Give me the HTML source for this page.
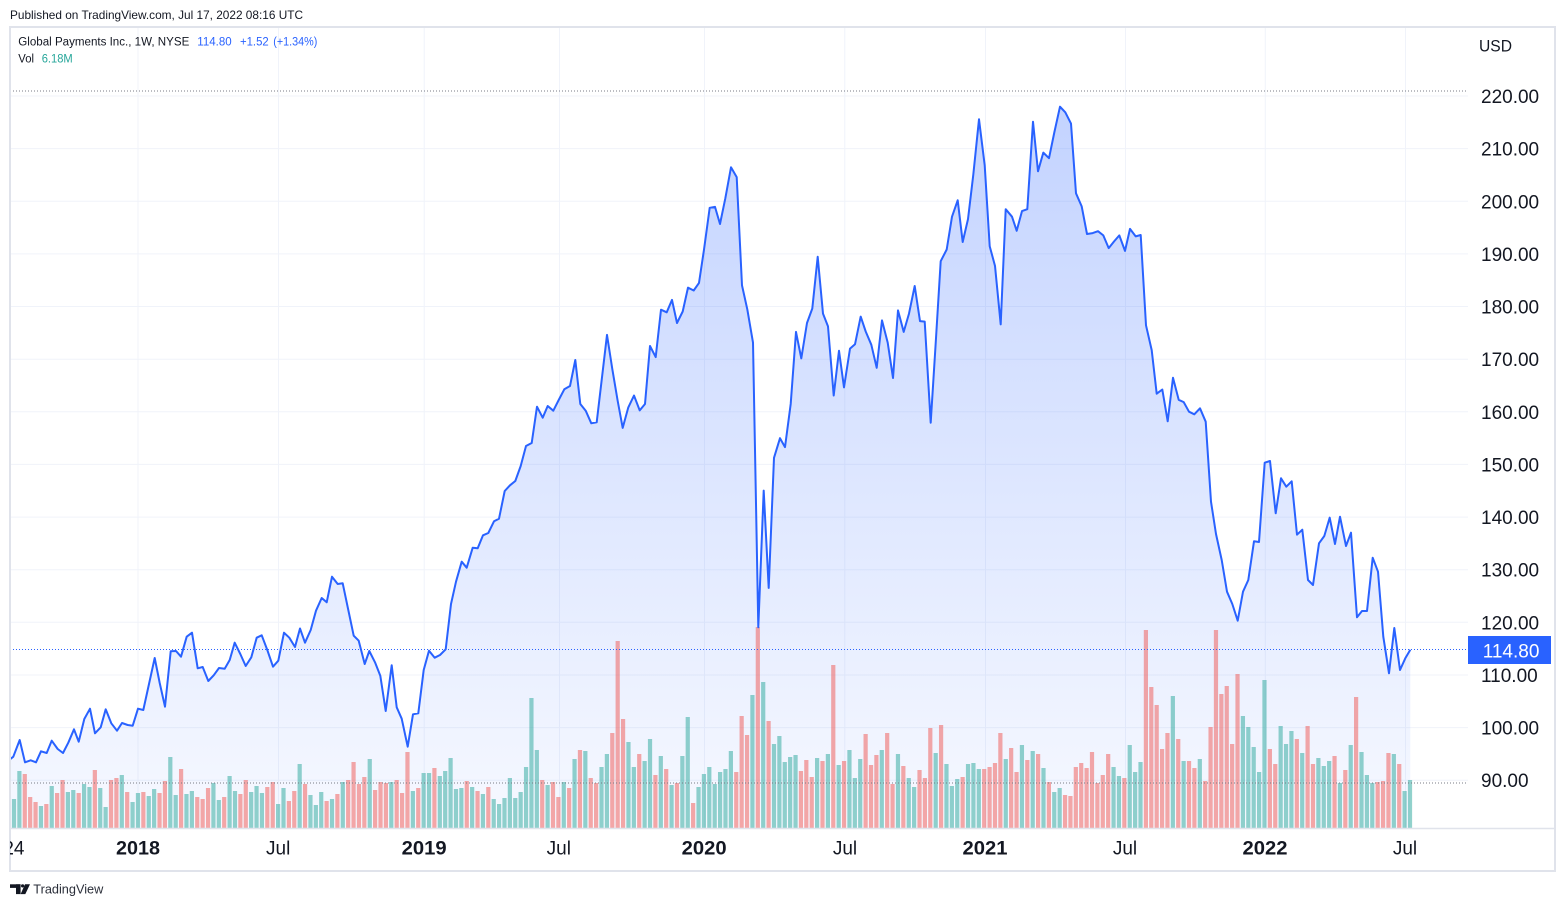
<!DOCTYPE html>
<html><head><meta charset="utf-8"><style>html,body{margin:0;padding:0;background:#fff}svg{display:block}</style></head>
<body>
<svg width="1566" height="907" viewBox="0 0 1566 907" xmlns="http://www.w3.org/2000/svg" font-family="'Liberation Sans', Arial, sans-serif">
<defs>
<clipPath id="pc"><rect x="10" y="28" width="1458" height="800"/></clipPath>
<clipPath id="tc"><rect x="10" y="829" width="1458" height="41"/></clipPath>
<linearGradient id="ag" gradientUnits="userSpaceOnUse" x1="0" y1="106" x2="0" y2="828">
<stop offset="0" stop-color="#2962ff" stop-opacity="0.28"/>
<stop offset="1" stop-color="#2962ff" stop-opacity="0.04"/>
</linearGradient>
</defs>
<rect width="1566" height="907" fill="#fff"/>

<text x="10" y="19" font-size="12" fill="#131722" textLength="293" lengthAdjust="spacingAndGlyphs">Published on TradingView.com, Jul 17, 2022 08:16 UTC</text>

<!-- grid -->
<g stroke="#f0f3fa" stroke-width="1">
<line x1="10" x2="1468" y1="96" y2="96"/>
<line x1="10" x2="1468" y1="148.6" y2="148.6"/>
<line x1="10" x2="1468" y1="201.3" y2="201.3"/>
<line x1="10" x2="1468" y1="253.9" y2="253.9"/>
<line x1="10" x2="1468" y1="306.5" y2="306.5"/>
<line x1="10" x2="1468" y1="359.2" y2="359.2"/>
<line x1="10" x2="1468" y1="411.8" y2="411.8"/>
<line x1="10" x2="1468" y1="464.4" y2="464.4"/>
<line x1="10" x2="1468" y1="517.1" y2="517.1"/>
<line x1="10" x2="1468" y1="569.7" y2="569.7"/>
<line x1="10" x2="1468" y1="622.3" y2="622.3"/>
<line x1="10" x2="1468" y1="675" y2="675"/>
<line x1="10" x2="1468" y1="727.6" y2="727.6"/>
<line x1="10" x2="1468" y1="780.2" y2="780.2"/>
<line x1="138" x2="138" y1="28" y2="828"/>
<line x1="278.5" x2="278.5" y1="28" y2="828"/>
<line x1="424.2" x2="424.2" y1="28" y2="828"/>
<line x1="559.5" x2="559.5" y1="28" y2="828"/>
<line x1="704.5" x2="704.5" y1="28" y2="828"/>
<line x1="844.8" x2="844.8" y1="28" y2="828"/>
<line x1="985.5" x2="985.5" y1="28" y2="828"/>
<line x1="1125.5" x2="1125.5" y1="28" y2="828"/>
<line x1="1265.3" x2="1265.3" y1="28" y2="828"/>
<line x1="1405.5" x2="1405.5" y1="28" y2="828"/>
</g>

<g clip-path="url(#pc)">
<!-- area -->
<polygon fill="url(#ag)" points="4,760 10,759.3 13.3,756.7 19.7,740 25,762.3 30.7,760.3 36,762.3 41,751.3 46.7,753 51.7,740.7 57.7,749 63,753 68.3,742.7 74,729.3 78.7,741.7 84.3,719 90,708.7 95,733.3 100.7,727.3 105.7,709.3 111.3,723.3 117,730.7 122,723 127.7,725 132.7,725.7 138,708.7 143.3,710 149,684 154.7,658 159.7,683 165,706.7 170.7,651.3 176,651 181,656.7 186.7,636.7 192,632.7 197.7,668.3 202.7,667 208.3,681 213.7,675.3 219,668 224.7,668.7 229.7,660 234.7,642.7 240.3,654 245.7,666 251.3,657.3 256.7,637.7 261.7,635.3 267.3,650 273,666.7 278.3,660.7 284,632.7 289.3,637.7 295,647 300,628.5 305,642.7 310.7,630 316,610.7 321.7,598 326.7,602.3 332,576.7 337.7,584 342.7,583.3 348.3,610 353.7,635.7 358.7,640.7 364.7,664 369.3,651 375,662.3 380.3,675.7 385.7,711 391.7,665.3 396.7,707.3 401.7,718.7 407.7,746.7 413,714.3 418.3,713.3 423.7,670 429,650.7 434.7,657.7 440,655 445.7,649.3 451,604 456,581.7 461.7,561.7 466.7,567.7 472.7,547.7 477.7,548.3 483,535.3 488.3,533 494,521.3 499,518.7 504.7,491 510,485.3 515.3,481 520.7,466 526,446 531.7,443 537,406.7 542.7,417.7 547.7,406 553.3,410.7 558.7,400 564.3,389.3 570,386 575.3,360 580.3,404 585.7,410.7 591.3,423.3 596.7,422.3 607,334.9 612.3,369 617.7,401 622.7,427.9 628.3,407.4 634,395.5 639.7,410.4 645,404 650,346 655.7,357.1 661,309.7 666.7,312.3 672,299.9 677,323 682.7,311.5 688,287.6 693.7,290.5 699,282.9 704,249.6 709.7,207.8 715,206.9 720,224 725.3,198.4 731,167.3 736.7,177.1 742,285.4 747.3,309.3 753,342.6 758.3,627.2 763.7,490.6 768.7,587.9 774,457.8 780,438.2 785,447.1 790.7,404 796,331.9 801.3,358.4 807,323 812.3,308.5 817.7,256.8 823,313.6 828,326.4 833.7,395.5 839,350.7 844,387.4 850,348.6 855,344.3 860.7,316.6 865.7,331.5 871.3,344.7 876.7,367.8 882,320.4 887.7,342.6 893,378 898,310.4 903.7,331.9 909,313.6 914.7,286 920,321.1 924.7,321.6 930.7,422.7 935.7,343.1 940.7,261.2 946.7,249.5 952,216.7 957.7,200.3 962.7,242 968,219.1 973.3,174.6 979,119.3 984.7,165.2 989.7,246.2 995,265.9 1000.7,324.4 1005.7,209.2 1012,216.7 1016.7,230.8 1022,211.1 1027.3,209.2 1033,121.7 1038,171.3 1043.3,152.6 1049,158.2 1054.3,132.5 1060,106.7 1065.3,112.3 1071,123.6 1076,193.3 1081.7,206.4 1087,234 1092.7,233.1 1098,231.2 1103.3,235.4 1108.7,248.1 1114,241.5 1119.3,235.4 1125,250.9 1130,228.9 1135.7,236.4 1140.7,235 1146,325.3 1151.7,350.1 1156.7,393.7 1162.3,389.5 1167.7,421.3 1173,377.8 1178.7,399.8 1183.7,402.1 1189,411.7 1194.3,414.3 1200,408.3 1205.7,421.7 1211,501.7 1216,534 1221.7,560 1227,591.7 1232.3,604 1237.7,620.7 1243,591.7 1248.3,580 1254,541.3 1259,542 1264.7,462.7 1270,461 1275.7,513.3 1281,478.3 1286.3,486.7 1291.7,481.3 1297,534.7 1302.3,529.7 1308,580 1313,585 1319,543.3 1324.3,536 1329.7,517.7 1335,544 1340,516.7 1346,546 1351,532.7 1357,617.3 1362,611 1367,611 1372.7,557.7 1378,571.7 1383.3,636.7 1389,673.3 1394.3,628 1400,670 1405.3,658.3 1410.3,649.7 1410.3,828 4,828"/>

<!-- volume green -->
<path fill="#26a69a" fill-opacity="0.5" d="M6.51 828
v-41h4.2v41m1.19 0 v-29h4.2v29m1.19 0 v-57h4.2v57m1.19 0 m5.39 0m5.39 0m5.39 0
v-22h4.2v22m1.19 0 m5.39 0 v-42h4.2v42m1.19 0 m5.39 0m5.39 0
v-36h4.2v36m1.19 0 v-38h4.2v38m1.19 0 m5.39 0 v-44h4.2v44m1.19 0 v-41h4.2v41m1.19 0 m5.39 0
v-40h4.2v40m1.19 0 v-21h4.2v21m1.19 0 m5.39 0m5.39 0 v-53h4.2v53m1.19 0 m5.39 0
v-26h4.2v26m1.19 0 v-35h4.2v35m1.19 0 m5.39 0 v-32h4.2v32m1.19 0 v-39h4.2v39m1.19 0 m5.39 0m5.39 0
v-71h4.2v71m1.19 0 v-33h4.2v33m1.19 0 m5.39 0 v-34h4.2v34m1.19 0 v-37h4.2v37m1.19 0 m5.39 0m5.39 0m5.39 0
v-45h4.2v45m1.19 0 v-28h4.2v28m1.19 0 m5.39 0 v-52h4.2v52m1.19 0 v-37h4.2v37m1.19 0 m5.39 0m5.39 0
v-36h4.2v36m1.19 0 v-42h4.2v42m1.19 0 v-35h4.2v35m1.19 0 m5.39 0m5.39 0
v-24h4.2v24m1.19 0 v-40h4.2v40m1.19 0 m5.39 0m5.39 0 v-64h4.2v64m1.19 0 m5.39 0
v-33h4.2v33m1.19 0 v-23h4.2v23m1.19 0 v-36h4.2v36m1.19 0 m5.39 0 v-29h4.2v29m1.19 0 m5.39 0
v-46h4.2v46m1.19 0 m5.39 0m5.39 0m5.39 0m5.39 0 v-69h4.2v69m1.19 0 m5.39 0m5.39 0m5.39 0
v-46h4.2v46m1.19 0 m5.39 0m5.39 0m5.39 0 v-37h4.2v37m1.19 0 m5.39 0
v-55h4.2v55m1.19 0 v-55h4.2v55m1.19 0 m5.39 0 v-52h4.2v52m1.19 0 v-57h4.2v57m1.19 0 v-70h4.2v70m1.19 0
v-39h4.2v39m1.19 0 v-40h4.2v40m1.19 0 m5.39 0 v-41h4.2v41m1.19 0 m5.39 0 v-34h4.2v34m1.19 0 m5.39 0
v-29h4.2v29m1.19 0 v-24h4.2v24m1.19 0 v-30h4.2v30m1.19 0 v-50h4.2v50m1.19 0 v-30h4.2v30m1.19 0
v-36h4.2v36m1.19 0 v-61h4.2v61m1.19 0 v-130h4.2v130m1.19 0 v-78h4.2v78m1.19 0 m5.39 0
v-43h4.2v43m1.19 0 m5.39 0m5.39 0 v-46h4.2v46m1.19 0 m5.39 0 v-69h4.2v69m1.19 0 m5.39 0
v-77h4.2v77m1.19 0 m5.39 0m5.39 0 v-61h4.2v61m1.19 0 v-74h4.2v74m1.19 0 m5.39 0m5.39 0m5.39 0
v-86h4.2v86m1.19 0 v-61h4.2v61m1.19 0 m5.39 0 v-67h4.2v67m1.19 0 v-89h4.2v89m1.19 0 m5.39 0
v-72h4.2v72m1.19 0 m5.39 0 v-43h4.2v43m1.19 0 m5.39 0 v-72h4.2v72m1.19 0 v-111h4.2v111m1.19 0 m5.39 0
v-41h4.2v41m1.19 0 v-54h4.2v54m1.19 0 v-61h4.2v61m1.19 0 v-44h4.2v44m1.19 0 v-56h4.2v56m1.19 0
v-59h4.2v59m1.19 0 v-77h4.2v77m1.19 0 m5.39 0m5.39 0m5.39 0 v-133h4.2v133m1.19 0 m5.39 0
v-146h4.2v146m1.19 0 m5.39 0 v-84h4.2v84m1.19 0 v-92h4.2v92m1.19 0 v-66h4.2v66m1.19 0
v-71h4.2v71m1.19 0 v-73h4.2v73m1.19 0 m5.39 0m5.39 0m5.39 0 v-70h4.2v70m1.19 0 m5.39 0
v-74h4.2v74m1.19 0 m5.39 0 v-63h4.2v63m1.19 0 m5.39 0 v-78h4.2v78m1.19 0 v-50h4.2v50m1.19 0
v-69h4.2v69m1.19 0 m5.39 0m5.39 0m5.39 0 v-78h4.2v78m1.19 0 m5.39 0m5.39 0 v-74h4.2v74m1.19 0 m5.39 0
v-50h4.2v50m1.19 0 v-41h4.2v41m1.19 0 m5.39 0m5.39 0m5.39 0 v-75h4.2v75m1.19 0 m5.39 0
v-64h4.2v64m1.19 0 v-42h4.2v42m1.19 0 v-49h4.2v49m1.19 0 m5.39 0 v-64h4.2v64m1.19 0
v-65h4.2v65m1.19 0 v-59h4.2v59m1.19 0 m5.39 0m5.39 0m5.39 0m5.39 0 v-69h4.2v69m1.19 0 m5.39 0m5.39 0
v-83h4.2v83m1.19 0 m5.39 0 v-77h4.2v77m1.19 0 m5.39 0 v-60h4.2v60m1.19 0 m5.39 0
v-36h4.2v36m1.19 0 v-40h4.2v40m1.19 0 m5.39 0m5.39 0m5.39 0m5.39 0m5.39 0m5.39 0m5.39 0m5.39 0m5.39 0
v-61h4.2v61m1.19 0 v-52h4.2v52m1.19 0 m5.39 0 v-83h4.2v83m1.19 0 v-56h4.2v56m1.19 0 v-66h4.2v66m1.19 0
m5.39 0m5.39 0m5.39 0m5.39 0m5.39 0 v-132h4.2v132m1.19 0 m5.39 0 v-67h4.2v67m1.19 0 m5.39 0m5.39 0
v-69h4.2v69m1.19 0 m5.39 0m5.39 0m5.39 0m5.39 0m5.39 0m5.39 0m5.39 0
v-112h4.2v112m1.19 0 v-101h4.2v101m1.19 0 v-81h4.2v81m1.19 0 v-56h4.2v56m1.19 0 v-148h4.2v148m1.19 0 m5.39 0m5.39 0
v-102h4.2v102m1.19 0 v-84h4.2v84m1.19 0 v-97h4.2v97m1.19 0 m5.39 0 v-75h4.2v75m1.19 0 m5.39 0m5.39 0
v-70h4.2v70m1.19 0 v-62h4.2v62m1.19 0 v-67h4.2v67m1.19 0 m5.39 0 v-45h4.2v45m1.19 0 m5.39 0
v-83h4.2v83m1.19 0 m5.39 0 v-76h4.2v76m1.19 0 v-53h4.2v53m1.19 0 v-45h4.2v45m1.19 0 m5.39 0m5.39 0m5.39 0
v-74h4.2v74m1.19 0 m5.39 0 v-37h4.2v37m1.19 0 v-48h4.2v48m1.19 0"/>

<!-- volume red -->
<path fill="#ef5350" fill-opacity="0.5" d="M6.51 828
m5.39 0m5.39 0m5.39 0 v-54h4.2v54m1.19 0 v-31h4.2v31m1.19 0 v-26h4.2v26m1.19 0 m5.39 0
v-24h4.2v24m1.19 0 m5.39 0 v-35h4.2v35m1.19 0 v-48h4.2v48m1.19 0 m5.39 0m5.39 0
v-35h4.2v35m1.19 0 m5.39 0m5.39 0 v-58h4.2v58m1.19 0 m5.39 0m5.39 0 v-48h4.2v48m1.19 0 v-50h4.2v50m1.19 0 m5.39 0
v-36h4.2v36m1.19 0 m5.39 0m5.39 0 v-36h4.2v36m1.19 0 m5.39 0m5.39 0 v-35h4.2v35m1.19 0 v-47h4.2v47m1.19 0 m5.39 0m5.39 0
v-59h4.2v59m1.19 0 m5.39 0m5.39 0 v-31h4.2v31m1.19 0 v-29h4.2v29m1.19 0 v-40h4.2v40m1.19 0 m5.39 0m5.39 0
v-31h4.2v31m1.19 0 m5.39 0m5.39 0 v-34h4.2v34m1.19 0 v-48h4.2v48m1.19 0 m5.39 0m5.39 0m5.39 0
v-41h4.2v41m1.19 0 v-46h4.2v46m1.19 0 m5.39 0m5.39 0 v-27h4.2v27m1.19 0 v-37h4.2v37m1.19 0 m5.39 0
v-44h4.2v44m1.19 0 m5.39 0m5.39 0m5.39 0 v-27h4.2v27m1.19 0 m5.39 0 v-34h4.2v34m1.19 0 m5.39 0
v-48h4.2v48m1.19 0 v-66h4.2v66m1.19 0 v-44h4.2v44m1.19 0 v-51h4.2v51m1.19 0 m5.39 0
v-38h4.2v38m1.19 0 v-46h4.2v46m1.19 0 v-45h4.2v45m1.19 0 m5.39 0 v-48h4.2v48m1.19 0 v-35h4.2v35m1.19 0 v-76h4.2v76m1.19 0 m5.39 0
v-40h4.2v40m1.19 0 m5.39 0m5.39 0 v-60h4.2v60m1.19 0 m5.39 0m5.39 0m5.39 0m5.39 0m5.39 0
v-47h4.2v47m1.19 0 m5.39 0 v-37h4.2v37m1.19 0 m5.39 0 v-41h4.2v41m1.19 0 m5.39 0m5.39 0m5.39 0m5.39 0m5.39 0m5.39 0m5.39 0m5.39 0m5.39 0
v-48h4.2v48m1.19 0 m5.39 0 v-46h4.2v46m1.19 0 v-31h4.2v31m1.19 0 m5.39 0 v-40h4.2v40m1.19 0 m5.39 0
v-78h4.2v78m1.19 0 m5.39 0 v-50h4.2v50m1.19 0 v-45h4.2v45m1.19 0 m5.39 0m5.39 0
v-95h4.2v95m1.19 0 v-187h4.2v187m1.19 0 v-109h4.2v109m1.19 0 m5.39 0m5.39 0 v-74h4.2v74m1.19 0 m5.39 0m5.39 0
v-53h4.2v53m1.19 0 m5.39 0 v-59h4.2v59m1.19 0 m5.39 0 v-45h4.2v45m1.19 0 m5.39 0m5.39 0
v-25h4.2v25m1.19 0 m5.39 0m5.39 0m5.39 0m5.39 0m5.39 0m5.39 0m5.39 0
v-56h4.2v56m1.19 0 v-112h4.2v112m1.19 0 v-93h4.2v93m1.19 0 m5.39 0 v-201h4.2v201m1.19 0 m5.39 0
v-107h4.2v107m1.19 0 m5.39 0m5.39 0m5.39 0m5.39 0m5.39 0 v-57h4.2v57m1.19 0 v-68h4.2v68m1.19 0 v-51h4.2v51m1.19 0 m5.39 0
v-67h4.2v67m1.19 0 m5.39 0 v-163h4.2v163m1.19 0 m5.39 0 v-67h4.2v67m1.19 0 m5.39 0m5.39 0m5.39 0
v-94h4.2v94m1.19 0 v-63h4.2v63m1.19 0 v-73h4.2v73m1.19 0 m5.39 0 v-95h4.2v95m1.19 0 v-44h4.2v44m1.19 0 m5.39 0
v-62h4.2v62m1.19 0 m5.39 0m5.39 0 v-58h4.2v58m1.19 0 v-50h4.2v50m1.19 0 v-100h4.2v100m1.19 0 m5.39 0
v-103h4.2v103m1.19 0 m5.39 0m5.39 0m5.39 0 v-51h4.2v51m1.19 0 m5.39 0m5.39 0m5.39 0
v-59h4.2v59m1.19 0 v-61h4.2v61m1.19 0 v-65h4.2v65m1.19 0 v-95h4.2v95m1.19 0 m5.39 0
v-80h4.2v80m1.19 0 v-56h4.2v56m1.19 0 m5.39 0 v-68h4.2v68m1.19 0 m5.39 0 v-74h4.2v74m1.19 0 m5.39 0
v-46h4.2v46m1.19 0 m5.39 0m5.39 0 v-33h4.2v33m1.19 0 v-32h4.2v32m1.19 0 v-61h4.2v61m1.19 0 v-65h4.2v65m1.19 0
v-60h4.2v60m1.19 0 v-76h4.2v76m1.19 0 v-45h4.2v45m1.19 0 v-53h4.2v53m1.19 0 v-74h4.2v74m1.19 0 m5.39 0m5.39 0
v-50h4.2v50m1.19 0 m5.39 0m5.39 0m5.39 0 v-198h4.2v198m1.19 0 v-141h4.2v141m1.19 0 v-123h4.2v123m1.19 0
v-79h4.2v79m1.19 0 v-95h4.2v95m1.19 0 m5.39 0 v-89h4.2v89m1.19 0 m5.39 0 v-67h4.2v67m1.19 0 v-60h4.2v60m1.19 0 m5.39 0
v-47h4.2v47m1.19 0 v-101h4.2v101m1.19 0 v-198h4.2v198m1.19 0 v-134h4.2v134m1.19 0 v-142h4.2v142m1.19 0
v-84h4.2v84m1.19 0 v-154h4.2v154m1.19 0 m5.39 0m5.39 0m5.39 0m5.39 0m5.39 0
v-79h4.2v79m1.19 0 v-64h4.2v64m1.19 0 m5.39 0m5.39 0m5.39 0 v-89h4.2v89m1.19 0 m5.39 0
v-102h4.2v102m1.19 0 v-64h4.2v64m1.19 0 m5.39 0m5.39 0m5.39 0 v-72h4.2v72m1.19 0 m5.39 0
v-58h4.2v58m1.19 0 m5.39 0 v-131h4.2v131m1.19 0 m5.39 0m5.39 0m5.39 0
v-46h4.2v46m1.19 0 v-47h4.2v47m1.19 0 v-75h4.2v75m1.19 0 m5.39 0 v-64h4.2v64m1.19 0"/>

<!-- dotted lines -->
<line x1="10" x2="1466" y1="91" y2="91" stroke="#787b86" stroke-width="1" stroke-dasharray="1 2"/>
<line x1="10" x2="1466" y1="783" y2="783" stroke="#787b86" stroke-width="1" stroke-dasharray="1 2"/>
<line x1="10" x2="1468" y1="649.5" y2="649.5" stroke="#2962ff" stroke-width="1" stroke-dasharray="1 2"/>

<!-- price line -->
<polyline fill="none" stroke="#2962ff" stroke-width="2" stroke-linejoin="round" points="4,760 10,759.3 13.3,756.7 19.7,740 25,762.3 30.7,760.3 36,762.3 41,751.3 46.7,753 51.7,740.7 57.7,749 63,753 68.3,742.7 74,729.3 78.7,741.7 84.3,719 90,708.7 95,733.3 100.7,727.3 105.7,709.3 111.3,723.3 117,730.7 122,723 127.7,725 132.7,725.7 138,708.7 143.3,710 149,684 154.7,658 159.7,683 165,706.7 170.7,651.3 176,651 181,656.7 186.7,636.7 192,632.7 197.7,668.3 202.7,667 208.3,681 213.7,675.3 219,668 224.7,668.7 229.7,660 234.7,642.7 240.3,654 245.7,666 251.3,657.3 256.7,637.7 261.7,635.3 267.3,650 273,666.7 278.3,660.7 284,632.7 289.3,637.7 295,647 300,628.5 305,642.7 310.7,630 316,610.7 321.7,598 326.7,602.3 332,576.7 337.7,584 342.7,583.3 348.3,610 353.7,635.7 358.7,640.7 364.7,664 369.3,651 375,662.3 380.3,675.7 385.7,711 391.7,665.3 396.7,707.3 401.7,718.7 407.7,746.7 413,714.3 418.3,713.3 423.7,670 429,650.7 434.7,657.7 440,655 445.7,649.3 451,604 456,581.7 461.7,561.7 466.7,567.7 472.7,547.7 477.7,548.3 483,535.3 488.3,533 494,521.3 499,518.7 504.7,491 510,485.3 515.3,481 520.7,466 526,446 531.7,443 537,406.7 542.7,417.7 547.7,406 553.3,410.7 558.7,400 564.3,389.3 570,386 575.3,360 580.3,404 585.7,410.7 591.3,423.3 596.7,422.3 607,334.9 612.3,369 617.7,401 622.7,427.9 628.3,407.4 634,395.5 639.7,410.4 645,404 650,346 655.7,357.1 661,309.7 666.7,312.3 672,299.9 677,323 682.7,311.5 688,287.6 693.7,290.5 699,282.9 704,249.6 709.7,207.8 715,206.9 720,224 725.3,198.4 731,167.3 736.7,177.1 742,285.4 747.3,309.3 753,342.6 758.3,627.2 763.7,490.6 768.7,587.9 774,457.8 780,438.2 785,447.1 790.7,404 796,331.9 801.3,358.4 807,323 812.3,308.5 817.7,256.8 823,313.6 828,326.4 833.7,395.5 839,350.7 844,387.4 850,348.6 855,344.3 860.7,316.6 865.7,331.5 871.3,344.7 876.7,367.8 882,320.4 887.7,342.6 893,378 898,310.4 903.7,331.9 909,313.6 914.7,286 920,321.1 924.7,321.6 930.7,422.7 935.7,343.1 940.7,261.2 946.7,249.5 952,216.7 957.7,200.3 962.7,242 968,219.1 973.3,174.6 979,119.3 984.7,165.2 989.7,246.2 995,265.9 1000.7,324.4 1005.7,209.2 1012,216.7 1016.7,230.8 1022,211.1 1027.3,209.2 1033,121.7 1038,171.3 1043.3,152.6 1049,158.2 1054.3,132.5 1060,106.7 1065.3,112.3 1071,123.6 1076,193.3 1081.7,206.4 1087,234 1092.7,233.1 1098,231.2 1103.3,235.4 1108.7,248.1 1114,241.5 1119.3,235.4 1125,250.9 1130,228.9 1135.7,236.4 1140.7,235 1146,325.3 1151.7,350.1 1156.7,393.7 1162.3,389.5 1167.7,421.3 1173,377.8 1178.7,399.8 1183.7,402.1 1189,411.7 1194.3,414.3 1200,408.3 1205.7,421.7 1211,501.7 1216,534 1221.7,560 1227,591.7 1232.3,604 1237.7,620.7 1243,591.7 1248.3,580 1254,541.3 1259,542 1264.7,462.7 1270,461 1275.7,513.3 1281,478.3 1286.3,486.7 1291.7,481.3 1297,534.7 1302.3,529.7 1308,580 1313,585 1319,543.3 1324.3,536 1329.7,517.7 1335,544 1340,516.7 1346,546 1351,532.7 1357,617.3 1362,611 1367,611 1372.7,557.7 1378,571.7 1383.3,636.7 1389,673.3 1394.3,628 1400,670 1405.3,658.3 1410.3,649.7"/>
</g>

<!-- separator and frame -->
<line x1="10" x2="1555" y1="828.5" y2="828.5" stroke="#e0e3eb" stroke-width="1.5"/>
<rect x="10" y="27" width="1545" height="844" fill="none" stroke="#e0e3eb" stroke-width="2"/>

<!-- legend -->
<g font-size="11.5">
<text x="18.3" y="45.7" fill="#131722" textLength="171" lengthAdjust="spacingAndGlyphs">Global Payments Inc., 1W, NYSE</text>
<text x="197.3" y="45.7" fill="#2962ff" textLength="34.4" lengthAdjust="spacingAndGlyphs">114.80</text>
<text x="240" y="45.7" fill="#2962ff" textLength="28.7" lengthAdjust="spacingAndGlyphs">+1.52</text>
<text x="273.3" y="45.7" fill="#2962ff" textLength="44" lengthAdjust="spacingAndGlyphs">(+1.34%)</text>
<text x="18.3" y="62.5" fill="#131722" textLength="15.7" lengthAdjust="spacingAndGlyphs">Vol</text>
<text x="41.7" y="62.5" fill="#26a69a" textLength="31" lengthAdjust="spacingAndGlyphs">6.18M</text>
</g>

<!-- price axis -->
<g font-size="19" fill="#131722">
<text x="1479" y="51.7" font-size="17" textLength="33" lengthAdjust="spacingAndGlyphs">USD</text>
<text x="1481" y="103">220.00</text>
<text x="1481" y="155.6">210.00</text>
<text x="1481" y="208.3">200.00</text>
<text x="1481" y="260.9">190.00</text>
<text x="1481" y="313.5">180.00</text>
<text x="1481" y="366.2">170.00</text>
<text x="1481" y="418.8">160.00</text>
<text x="1481" y="471.4">150.00</text>
<text x="1481" y="524.1">140.00</text>
<text x="1481" y="576.7">130.00</text>
<text x="1481" y="629.3">120.00</text>
<text x="1481" y="682">110.00</text>
<text x="1481" y="734.6">100.00</text>
<text x="1481" y="787.2">90.00</text>
</g>
<rect x="1468" y="636" width="83" height="28" fill="#2962ff"/>
<text x="1482.7" y="657.5" font-size="19" fill="#ffffff">114.80</text>

<!-- time axis -->
<g font-size="19" fill="#131722" text-anchor="middle">
<g clip-path="url(#tc)"><text x="24.5" y="854.3" text-anchor="end">24</text></g>
<text x="138" y="854.3" font-weight="bold" textLength="44" lengthAdjust="spacingAndGlyphs">2018</text>
<text x="278.2" y="854.3">Jul</text>
<text x="424.2" y="854.3" font-weight="bold" textLength="45" lengthAdjust="spacingAndGlyphs">2019</text>
<text x="558.8" y="854.3">Jul</text>
<text x="704.2" y="854.3" font-weight="bold" textLength="45" lengthAdjust="spacingAndGlyphs">2020</text>
<text x="845" y="854.3">Jul</text>
<text x="985" y="854.3" font-weight="bold" textLength="45" lengthAdjust="spacingAndGlyphs">2021</text>
<text x="1125" y="854.3">Jul</text>
<text x="1265" y="854.3" font-weight="bold" textLength="45" lengthAdjust="spacingAndGlyphs">2022</text>
<text x="1405" y="854.3">Jul</text>
</g>

<!-- footer logo -->
<g fill="#131722">
<rect x="10" y="884.3" width="10.5" height="3.6"/>
<rect x="16" y="884.3" width="4.6" height="9.8"/>
<circle cx="22.6" cy="885.9" r="1.6"/>
<polygon points="25,884.3 30,884.3 25.3,894.1 20.6,894.1"/>
</g>
<text x="33.3" y="893.3" font-size="13" fill="#2a2e39" textLength="70" lengthAdjust="spacingAndGlyphs">TradingView</text>
</svg>
</body></html>
